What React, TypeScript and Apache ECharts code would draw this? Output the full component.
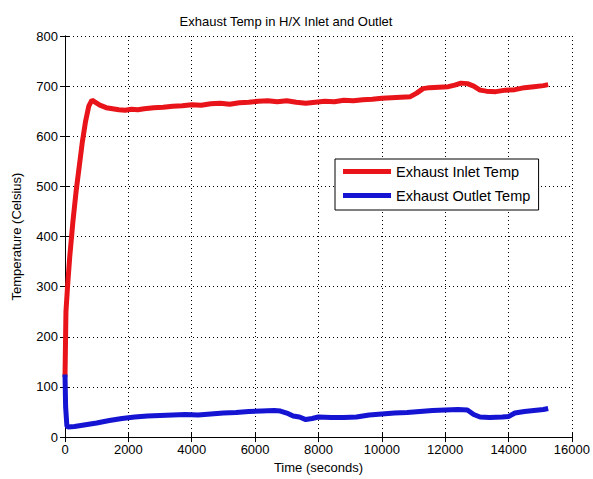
import React, { useEffect, useRef } from "react";
import * as echarts from "echarts";

const inletTimes = [0, 30, 80, 150, 250, 350, 450, 550, 650, 750, 850, 950, 1100, 1300, 1500, 1700, 1900, 2100, 2300, 2500, 2800, 3100, 3400, 3700, 4000, 4300, 4600, 4900, 5200, 5500, 5800, 6100, 6400, 6700, 7000, 7300, 7600, 7900, 8200, 8500, 8800, 9100, 9400, 9700, 10000, 10300, 10600, 10900, 11100, 11300, 11500, 11800, 12100, 12300, 12500, 12700, 12900, 13100, 13300, 13600, 13900, 14200, 14500, 14800, 15100, 15250];
const inletTemps = [120, 250, 300, 360, 430, 490, 540, 590, 630, 660, 672, 668, 662, 657, 655, 653, 652, 654, 653, 655, 657, 658, 660, 661, 663, 662, 665, 666, 664, 667, 668, 670, 671, 669, 671, 668, 666, 668, 670, 669, 672, 671, 673, 674, 676, 677, 678, 679, 686, 695, 697, 698, 699, 702, 706, 705, 700, 692, 690, 689, 692, 693, 697, 699, 701, 703];

const outletTimes = [0, 20, 60, 100, 300, 600, 1000, 1400, 1800, 2200, 2600, 3000, 3400, 3800, 4200, 4600, 5000, 5400, 5800, 6200, 6600, 6800, 7000, 7200, 7400, 7600, 7800, 8000, 8400, 8800, 9200, 9600, 10000, 10400, 10800, 11200, 11600, 12000, 12400, 12700, 12900, 13100, 13400, 13800, 14000, 14200, 14500, 14800, 15100, 15250];
const outletTemps = [125, 60, 22, 20, 21, 24, 28, 33, 37, 40, 42, 43, 44, 45, 44, 46, 48, 49, 51, 52, 53, 52, 48, 42, 40, 35, 37, 40, 39, 39, 40, 44, 46, 48, 49, 51, 53, 54, 55, 54, 45, 40, 39, 40, 41, 48, 51, 53, 55, 57];

const FONT = "Liberation Sans";

export default function App() {
  const ref = useRef<HTMLDivElement>(null);
  useEffect(() => {
    if (!ref.current) return;
    const chart = echarts.init(ref.current, null, { renderer: "svg" });
    const splitLine = { show: true, lineStyle: { color: "#000", type: [1, 3] as any, width: 1 } };
    const baseAxis = {
      axisLine: { show: true, lineStyle: { color: "#000", width: 1 } },
      axisTick: { show: true, inside: true, length: 5, lineStyle: { color: "#000" } },
    };
    chart.setOption({
      animation: false,
      backgroundColor: "#fff",
      title: {
        text: "Exhaust Temp in H/X Inlet and Outlet",
        left: 281,
        top: 10,
        textAlign: "center",
        textStyle: { fontFamily: FONT, fontSize: 13, fontWeight: "normal", color: "#000" },
      },
      grid: { left: 65, top: 36, width: 513, height: 402, containLabel: false },
      legend: {
        orient: "vertical",
        left: 335,
        top: 159,
        padding: [5, 8, 7, 8],
        itemGap: 9,
        itemWidth: 48,
        itemHeight: 5,
        icon: "rect",
        borderColor: "#000",
        borderWidth: 1,
        backgroundColor: "#fff",
        textStyle: { fontFamily: FONT, fontSize: 14.5, color: "#000" },
        data: ["Exhaust Inlet Temp", "Exhaust Outlet Temp"],
      },
      xAxis: [
        {
          type: "value",
          min: 0,
          max: 16000,
          interval: 2000,
          ...baseAxis,
          splitLine,
          name: "Time (seconds)",
          nameLocation: "middle",
          nameGap: 23,
          nameTextStyle: { fontFamily: FONT, fontSize: 13, color: "#000" },
          axisLabel: { fontFamily: FONT, fontSize: 13, color: "#000", margin: 6, formatter: (v: number) => String(v) },
        },
        {
          type: "value",
          position: "top",
          min: 0,
          max: 16000,
          interval: 2000,
          ...baseAxis,
          splitLine: { show: false },
          axisLabel: { show: false },
        },
      ],
      yAxis: [
        {
          type: "value",
          min: 0,
          max: 800,
          interval: 100,
          ...baseAxis,
          splitLine,
          name: "Temperature (Celsius)",
          nameLocation: "middle",
          nameGap: 42,
          nameTextStyle: { fontFamily: FONT, fontSize: 13, color: "#000" },
          axisLabel: { fontFamily: FONT, fontSize: 13, color: "#000", margin: 7 },
        },
        {
          type: "value",
          position: "right",
          min: 0,
          max: 800,
          interval: 100,
          ...baseAxis,
          splitLine: { show: false },
          axisLabel: { show: false },
        },
      ],
      series: [
        {
          name: "Exhaust Inlet Temp",
          type: "line",
          xAxisIndex: 0,
          yAxisIndex: 0,
          showSymbol: false,
          symbol: "none",
          color: "#e8141a",
          lineStyle: { color: "#e8141a", width: 5 },
          data: inletTimes.map((t, i) => [t, inletTemps[i]]),
        },
        {
          name: "Exhaust Outlet Temp",
          type: "line",
          xAxisIndex: 0,
          yAxisIndex: 0,
          showSymbol: false,
          symbol: "none",
          color: "#1414d2",
          lineStyle: { color: "#1414d2", width: 5 },
          data: outletTimes.map((t, i) => [t, outletTemps[i]]),
        },
      ],
    });
    return () => chart.dispose();
  }, []);
  return <div ref={ref} style={{ width: 593, height: 479, position: "absolute", left: 0, top: 0 }} />;
}
